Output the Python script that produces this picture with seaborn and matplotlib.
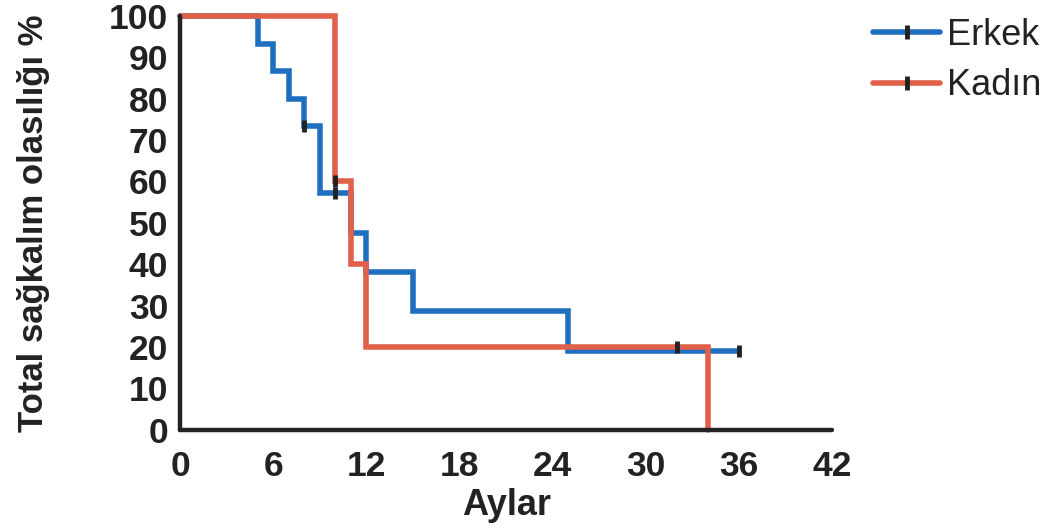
import numpy as np
import pandas as pd
import matplotlib
matplotlib.use("Agg")
import matplotlib.pyplot as plt
import seaborn as sns
from matplotlib.lines import Line2D

sns.set_style("white")
plt.rcParams['font.family'] = ['Liberation Sans', 'DejaVu Sans']

# Kaplan-Meier step curves (time in months, survival in %)
erkek_time = [0, 5, 6, 7, 8, 9, 11, 12, 15, 25, 36]
erkek_surv = [100, 93.3, 86.7, 80.0, 73.3, 57.1, 47.6, 38.1, 28.6, 19.0, 19.0]
kadin_time = [0, 10, 11, 12, 34]
kadin_surv = [100, 60, 40, 20, 0]

# Censored observations
erkek_cens_time = [8, 10, 36]
erkek_cens_surv = [73.3, 57.1, 19.0]
kadin_cens_time = [10, 32]
kadin_cens_surv = [60, 20]

groups = ["Erkek", "Kadın"]
colors = {"Erkek": "#1f6fc0", "Kadın": "#e0604a"}

x_ticks = [0, 6, 12, 18, 24, 30, 36, 42]
y_ticks = [0, 10, 20, 30, 40, 50, 60, 70, 80, 90, 100]

curves = pd.concat([
    pd.DataFrame({"t": erkek_time, "s": erkek_surv, "g": "Erkek"}),
    pd.DataFrame({"t": kadin_time, "s": kadin_surv, "g": "Kadın"}),
])
cens = pd.concat([
    pd.DataFrame({"t": erkek_cens_time, "s": erkek_cens_surv, "g": "Erkek"}),
    pd.DataFrame({"t": kadin_cens_time, "s": kadin_cens_surv, "g": "Kadın"}),
])

ink = "#222222"
fig = plt.figure(figsize=(10.47, 5.30), dpi=100)
ax = fig.add_axes([0.172, 0.189, 0.623, 0.781])

for g in groups:
    sub = curves[curves.g == g]
    sns.lineplot(data=sub, x="t", y="s", ax=ax, color=colors[g], lw=4,
                 drawstyle="steps-post", estimator=None, sort=False,
                 solid_joinstyle="miter", legend=False)

sns.scatterplot(data=cens, x="t", y="s", ax=ax, marker="|", s=85,
                color=ink, linewidth=3.5, legend=False, zorder=5)

ax.set_xlim(0, 42)
ax.set_ylim(0, 100)
ax.set_xticks(x_ticks)
ax.set_yticks(y_ticks)
ax.set_xlabel("Aylar", fontsize=26, fontweight="bold", color=ink)
ax.set_ylabel("Total sağkalım olasılığı %", fontsize=25, fontweight="bold",
              color=ink)
ax.xaxis.set_label_coords(0.5, -0.14)
ax.yaxis.set_label_coords(-0.2, 0.5)

sns.despine(ax=ax)
for side in ("left", "bottom"):
    ax.spines[side].set_linewidth(3.2)
    ax.spines[side].set_color(ink)
    ax.spines[side].set_capstyle("round")
ax.tick_params(axis="both", direction="out", length=7.5, width=3.2,
               color=ink, labelsize=25.5, labelcolor=ink)
ax.tick_params(axis="y", pad=1)
ax.tick_params(axis="x", pad=7)
for lab in ax.get_xticklabels() + ax.get_yticklabels():
    lab.set_fontweight("bold")
for ln in ax.lines:
    ln.set_clip_on(False)
for coll in ax.collections:
    coll.set_clip_on(False)

handles = [Line2D([0], [0], color=colors[g], lw=4, marker="|", markersize=10,
                  markeredgewidth=3.5, markeredgecolor=ink) for g in groups]
ax.legend(handles, groups, loc="upper left", bbox_to_anchor=(873 / 1047, 0.966),
          bbox_transform=fig.transFigure, borderpad=0, borderaxespad=0,
          frameon=False, fontsize=26, handlelength=1.86, handletextpad=0.2,
          labelspacing=0.42, labelcolor=ink)

fig.savefig("out.png", dpi=100)
